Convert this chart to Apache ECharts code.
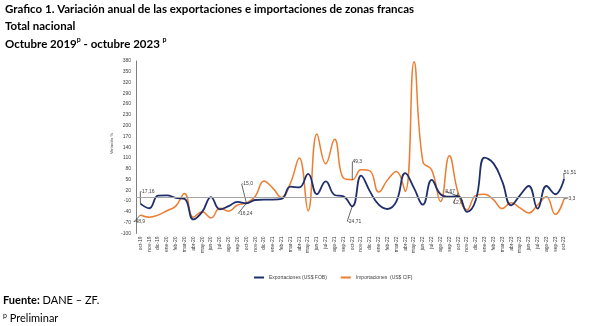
<!DOCTYPE html>
<html>
<head>
<meta charset="utf-8">
<script src="https://cdn.jsdelivr.net/npm/echarts@6/dist/echarts.min.js"></script>
<style>
  html, body { margin: 0; padding: 0; background: #ffffff; }
  #chart { width: 591px; height: 326px; }
</style>
</head>
<body>
<div id="chart"></div>
<script>
// Monthly categories, October 2019 to October 2023
const months = [
  'oct-19','nov-19','dic-19',
  'ene-20','feb-20','mar-20','abr-20','may-20','jun-20','jul-20','ago-20','sep-20','oct-20','nov-20','dic-20',
  'ene-21','feb-21','mar-21','abr-21','may-21','jun-21','jul-21','ago-21','sep-21','oct-21','nov-21','dic-21',
  'ene-22','feb-22','mar-22','abr-22','may-22','jun-22','jul-22','ago-22','sep-22','oct-22','nov-22','dic-22',
  'ene-23','feb-23','mar-23','abr-23','may-23','jun-23','jul-23','ago-23','sep-23','oct-23'
];

// Annual variation (%) of free-trade-zone exports (US$ FOB)
const exportaciones = [
  -17.16, -30, 5,
  6, -1, -4, -61, -40, 1, -33, -24, -12, -16.24, -7, -6,
  -6, -4, 30, 28, 66, 9, 45, 7, 3, -24.71, 61, 17,
  -20, -32, -11, 68, 26, -20, 49, 9, 2, 3.67, -40, -7,
  111, 95, 44, -22, 6, 32, -31, 32, 9, 51.51
];

// Annual variation (%) of free-trade-zone imports (US$ CIF)
const importaciones = [
  -48.9, -55, -49,
  -37, -24, 11, -55, -40, -57, -30, -38, -21, -15.0, 3, 46,
  26, 0, 40, 110, -37, 177, 94, 162, 54, 49.3, 77, 74,
  15, 49, 72, 17, 378, 100, 77, -11, 116, 12.8, -35, 6,
  9, -6, -31, -15, -29, -43, -21, 2, -47, -3.3
];

// Value axis ticks
const yMin = -100, yMax = 380, yStep = 30;

// October points that carry a value label, and decimals shown in each series
const labelledIdx = [0, 12, 24, 36, 48];
const expDecimals = 2;
const impDecimals = 1;

// Label placement relative to its point (pixels)
const expOffsets = { 0: [7, -12], 12: [-1, 10], 24: [2, 15], 36: [-8, -5], 48: [6, -6] };
const impOffsets = { 0: [-1, 7], 12: [1, -19], 24: [5, -18], 36: [0, 10], 48: [7, 0] };

const NAVY = '#1F2F6B';
const ORANGE = '#ED7D31';
const TXT = '#404040';

function fmt(v, d) { return v.toFixed(d).replace('.', ','); }

function buildData(values, dec) {
  return values.map(function (v, i) {
    if (labelledIdx.indexOf(i) >= 0) {
      return { value: v, label: { show: true, formatter: fmt(v, dec) } };
    }
    return v;
  });
}

function layoutFor(offsets) {
  return function (params) {
    const o = offsets[params.dataIndex];
    if (!o) return {};
    return { dx: o[0], dy: o[1] };
  };
}

const chart = echarts.init(document.getElementById('chart'), null, { renderer: 'canvas' });

const lineLabel = {
  show: false, position: 'inside', fontSize: 5, color: TXT,
  fontFamily: 'Liberation Sans'
};
const guide = { show: true, length2: 0, lineStyle: { color: '#000000', width: 0.6 } };

chart.setOption({
  animation: false,
  backgroundColor: '#ffffff',
  textStyle: { fontFamily: 'Liberation Sans' },
  grid: { left: 136, top: 61, right: 22.5, bottom: 92.6, containLabel: false },
  legend: {
    left: 249, top: 270,
    icon: 'rect', itemWidth: 10, itemHeight: 2, itemGap: 14,
    textStyle: { fontSize: 5, color: TXT, fontFamily: 'Liberation Sans' },
    data: ['Exportaciones (US$ FOB)', 'Importaciones  (US$ CIF)']
  },
  xAxis: {
    type: 'category',
    data: months,
    boundaryGap: true,
    axisLine: { show: false },
    axisTick: { show: false },
    axisLabel: { interval: 0, rotate: 90, fontSize: 5, color: TXT, margin: 3 }
  },
  yAxis: {
    type: 'value',
    min: yMin, max: yMax, interval: yStep,
    splitLine: { show: false },
    axisLine: { show: true, onZero: false, lineStyle: { color: '#7F7F7F', width: 1 } },
    axisTick: { show: false },
    axisLabel: { fontSize: 5, color: TXT, margin: 5 }
  },
  graphic: [
    {
      type: 'text', left: 5, top: 3,
      style: {
        text: 'Grafico 1. Variación anual de las exportaciones e importaciones de zonas francas',
        font: 'bold 11.5px Lato', fill: '#000000'
      }
    },
    {
      type: 'text', left: 5, top: 20,
      style: { text: 'Total nacional', font: 'bold 11.5px Lato', fill: '#000000' }
    },
    {
      type: 'text', left: 5, top: 36,
      style: {
        text: '{b|Octubre 2019}{s|p}{b| - octubre 2023 }{s|p}',
        rich: {
          b: { font: 'bold 11.5px Lato', fill: '#000000', lineHeight: 16 },
          s: { font: 'bold 7px Lato', fill: '#000000', verticalAlign: 'top', lineHeight: 16 }
        }
      }
    },
    {
      type: 'text', left: 110, top: 133, rotation: Math.PI / 2,
      style: { text: 'Variación %', font: '4px Liberation Sans', fill: TXT }
    },
    {
      type: 'text', left: 3, top: 295,
      style: {
        text: '{b|Fuente:}{r| DANE – ZF.}',
        rich: {
          b: { font: 'bold 11px Lato', fill: '#000000' },
          r: { font: '11px Lato', fill: '#000000' }
        }
      }
    },
    {
      type: 'text', left: 3, top: 312,
      style: {
        text: '{s|p}{r| Preliminar}',
        rich: {
          s: { font: '7px Lato', fill: '#000000', verticalAlign: 'top', lineHeight: 13 },
          r: { font: '11px Lato', fill: '#000000', lineHeight: 13 }
        }
      }
    }
  ],
  series: [
    {
      name: 'Exportaciones (US$ FOB)',
      type: 'line',
      smooth: 0.45,
      data: buildData(exportaciones, expDecimals),
      symbol: 'circle', symbolSize: 0, showSymbol: true, showAllSymbol: true,
      lineStyle: { color: NAVY, width: 1.8 },
      itemStyle: { color: NAVY },
      label: lineLabel,
      labelLine: guide,
      labelLayout: layoutFor(expOffsets),
      markLine: {
        silent: true, symbol: 'none', label: { show: false },
        lineStyle: { color: '#A6A6A6', width: 1, type: 'solid' },
        data: [{ yAxis: 0 }]
      },
      z: 3
    },
    {
      name: 'Importaciones  (US$ CIF)',
      type: 'line',
      smooth: 0.45,
      data: buildData(importaciones, impDecimals),
      symbol: 'circle', symbolSize: 0, showSymbol: true, showAllSymbol: true,
      lineStyle: { color: ORANGE, width: 1.5 },
      itemStyle: { color: ORANGE },
      label: lineLabel,
      labelLine: guide,
      labelLayout: layoutFor(impOffsets),
      z: 2
    }
  ]
});
</script>
</body>
</html>
